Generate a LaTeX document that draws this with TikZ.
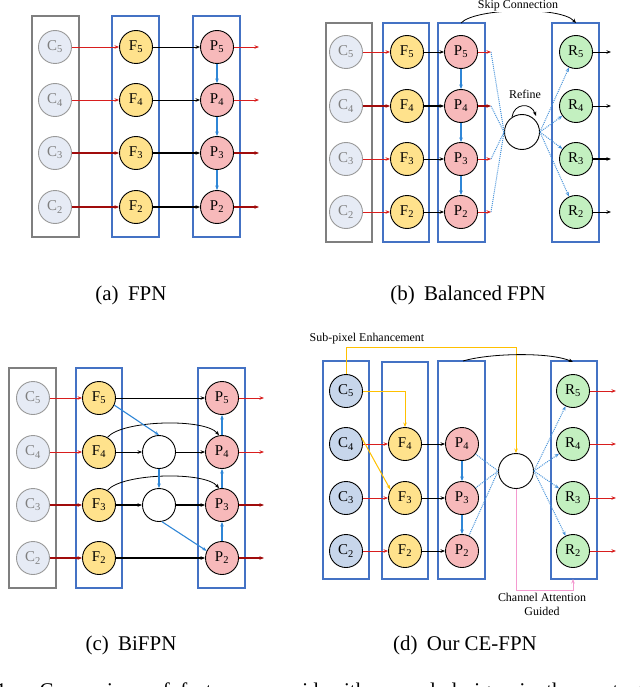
\documentclass[tikz,border=0pt]{standalone}
\usepackage{fontspec}
\setmainfont{Liberation Serif}
\usetikzlibrary{arrows.meta}
\definecolor{boxblue}{HTML}{4472C4}
\definecolor{boxgray}{HTML}{7F7F7F}
\definecolor{cfill}{HTML}{E6EBF5}
\definecolor{cdfill}{HTML}{C7D6EB}
\definecolor{ffill}{HTML}{FFE28C}
\definecolor{pfill}{HTML}{F7B9BA}
\definecolor{rfill}{HTML}{C3F0C0}
\definecolor{redA}{HTML}{D81E1E}
\definecolor{redB}{HTML}{A00C0C}
\definecolor{arrblue}{HTML}{2F86D6}
\definecolor{dotblue}{HTML}{4A94DA}
\definecolor{ylw}{HTML}{FFC000}
\definecolor{pnk}{HTML}{F49AD0}
\begin{document}
\begin{tikzpicture}[x=1bp,y=-1bp,
  arrtip/.style={-{Stealth[length=4.5bp,width=3.5bp]}},
  nd/.style={circle,minimum size=33bp,inner sep=0pt,line width=0.9bp,font=\fontsize{15}{15}\selectfont},
  cn/.style={nd,draw=boxgray!80,fill=cfill,text=boxgray},
  cdn/.style={nd,draw=black,fill=cdfill},
  fn/.style={nd,draw=black,fill=ffill},
  pn/.style={nd,draw=black,fill=pfill},
  rn/.style={nd,draw=black,fill=rfill},
  wn/.style={nd,draw=black,fill=white},
  gbox/.style={draw=boxgray,line width=1.3bp},
  bbox/.style={draw=boxblue,line width=1.1bp},
  rarr/.style={arrtip,draw=redA,line width=0.8bp},
  rarrd/.style={arrtip,draw=redB,line width=1.3bp},
  karr/.style={arrtip,draw=black,line width=0.8bp},
  karrd/.style={arrtip,draw=black,line width=1.3bp},
  barr/.style={arrtip,draw=arrblue,line width=1.1bp},
  dln/.style={draw=dotblue,densely dotted,line width=1bp},
  darr/.style={dln,arrtip},
  yarr/.style={arrtip,draw=ylw,line width=1bp},
  lbl/.style={font=\fontsize{12}{12}\selectfont,inner sep=0pt},
  captext/.style={font=\fontsize{21}{21}\selectfont,inner sep=0pt}
]
\useasboundingbox (0,0) rectangle (640,687);

% ---------------- (a) FPN ----------------
\draw[gbox] (32,16) rectangle (79,237);
\draw[bbox] (112,16) rectangle (159,237);
\draw[bbox] (193,16) rectangle (240,237);
\foreach \i/\y in {5/47,4/100,3/153,2/207}{
  \node[cn] (ac\i) at (55,\y) {C\textsubscript{\i}};
  \node[fn] (af\i) at (136,\y) {F\textsubscript{\i}};
  \node[pn] (ap\i) at (217,\y) {P\textsubscript{\i}};
  \coordinate (ao\i) at (259,\y);
}
\foreach \i in {5,4}{
  \draw[rarr] (ac\i) -- (af\i);
  \draw[karr] (af\i) -- (ap\i);
  \draw[rarr] (ap\i) -- (ao\i);
}
\foreach \i in {3,2}{
  \draw[rarrd] (ac\i) -- (af\i);
  \draw[karrd] (af\i) -- (ap\i);
  \draw[rarrd] (ap\i) -- (ao\i);
}
\draw[barr] (ap5) -- (ap4);
\draw[barr] (ap4) -- (ap3);
\draw[barr] (ap3) -- (ap2);
\node[captext] (capa) at (131,295) {(a)\hspace{0.45em}FPN};

% ---------------- (b) Balanced FPN ----------------
\draw[gbox] (326,23) rectangle (372,242);
\draw[bbox] (383,23) rectangle (429,242);
\draw[bbox] (438,23) rectangle (485,242);
\draw[bbox] (552,23) rectangle (599,242);
\node[wn,minimum size=35bp] (bref) at (522,132) {};
\foreach \i/\y in {5/52,4/106,3/159,2/212}{
  \node[cn] (bc\i) at (346,\y) {C\textsubscript{\i}};
  \node[fn] (bf\i) at (407,\y) {F\textsubscript{\i}};
  \node[pn] (bp\i) at (461,\y) {P\textsubscript{\i}};
  \node[rn] (br\i) at (576,\y) {R\textsubscript{\i}};
  \coordinate (bo\i) at (491,\y);
  \coordinate (bq\i) at (611,\y);
  \draw[dln] (bo\i) -- (bref.west);
  \draw[darr] (bref.east) -- (br\i);
}
\foreach \i in {5,3,2}{
  \draw[rarr] (bc\i) -- (bf\i);
  \draw[karr] (bf\i) -- (bp\i);
  \draw[rarr] (bp\i) -- (bo\i);
}
\draw[rarrd] (bc4) -- (bf4);
\draw[karrd] (bf4) -- (bp4);
\draw[rarrd] (bp4) -- (bo4);
\foreach \i in {5,4,2}{\draw[karr] (br\i) -- (bq\i);}
\draw[karrd] (br3) -- (bq3);
\draw[barr] (bp5) -- (bp4);
\draw[barr] (bp4) -- (bp3);
\draw[barr] (bp3) -- (bp2);
\coordinate (bsk1) at (461,23);
\coordinate (bsk2) at (576,23);
\draw[karr] (bsk1) .. controls (475,8) and (560,6) .. (bsk2);
\node[lbl,fill=white,inner sep=1bp] (bskl) at (518,6) {Skip Connection};
\node[lbl] (brefl) at (525,94) {Refine};
\coordinate (brf1) at (512,117);
\coordinate (brf2) at (536,116);
\draw[karr] (brf1) .. controls (514,103) and (531,102) .. (brf2);
\node[captext] (capb) at (468,295) {(b)\hspace{0.45em}Balanced FPN};

% ---------------- (c) BiFPN ----------------
\draw[gbox] (9,368) rectangle (56,588);
\draw[bbox] (76,368) rectangle (122,588);
\draw[bbox] (198,368) rectangle (245,588);
\foreach \i/\y in {5/398,4/452,3/505,2/558}{
  \node[cn] (cc\i) at (33,\y) {C\textsubscript{\i}};
  \node[fn] (cf\i) at (99,\y) {F\textsubscript{\i}};
  \node[pn] (cp\i) at (222,\y) {P\textsubscript{\i}};
  \coordinate (co\i) at (264,\y);
}
\node[wn] (cm4) at (159,452) {};
\node[wn] (cm3) at (159,505) {};
\foreach \i in {5,4}{
  \draw[rarr] (cc\i) -- (cf\i);
  \draw[rarr] (cp\i) -- (co\i);
}
\foreach \i in {3,2}{
  \draw[rarrd] (cc\i) -- (cf\i);
  \draw[rarrd] (cp\i) -- (co\i);
}
\draw[karr] (cf5) -- (cp5);
\draw[karr] (cf4) -- (cm4);
\draw[karr] (cm4) -- (cp4);
\draw[karrd] (cf3) -- (cm3);
\draw[karrd] (cm3) -- (cp3);
\draw[karrd] (cf2) -- (cp2);
\draw[karr] (cf4.60) .. controls (122,420) and (205,418) .. (cp4.100);
\draw[karr] (cf3.60) .. controls (122,473) and (205,471) .. (cp3.100);
\draw[barr] (cf5.-25) -- (cm4.north);
\draw[barr] (cm4) -- (cm3);
\draw[barr] (cm3.-80) -- (cp2.155);
\draw[barr] (cp2) -- (cp3);
\draw[barr] (cp3) -- (cp4);
\draw[barr] (cp4) -- (cp5);
\node[captext] (capc) at (131,645) {(c)\hspace{0.45em}BiFPN};

% ---------------- (d) CE-FPN ----------------
\draw[bbox] (323,361) rectangle (369,579);
\draw[bbox] (382,362) rectangle (428,579);
\draw[bbox] (438,361) rectangle (485,579);
\draw[bbox] (551,361) rectangle (597,579);
\node[wn,minimum size=35bp] (dm) at (516,471) {};
\foreach \i/\y in {5/391,4/444,3/498,2/551}{
  \node[cdn] (dc\i) at (346,\y) {C\textsubscript{\i}};
  \node[rn] (dr\i) at (573,\y) {R\textsubscript{\i}};
  \coordinate (do\i) at (616,\y);
  \draw[rarr] (dr\i) -- (do\i);
  \draw[darr] (dm.east) -- (dr\i);
}
\foreach \i/\y in {4/444,3/498,2/551}{
  \node[fn] (df\i) at (405,\y) {F\textsubscript{\i}};
  \node[pn] (dp\i) at (462,\y) {P\textsubscript{\i}};
  \draw[rarr] (dc\i) -- (df\i);
  \draw[karr] (df\i) -- (dp\i);
  \draw[dln] (dp\i) -- (dm.west);
}
\draw[barr] (dp4) -- (dp3);
\draw[barr] (dp3) -- (dp2);
\coordinate (dy1) at (346,347);
\coordinate (dy2) at (516,347);
\draw[yarr] (dc5.north) -- (dy1) -- (dy2) -- (dm.north);
\draw[yarr] (dc5.east) -| (df4.north);
\draw[yarr] (dc4.20) -- (df3.150);
\coordinate (dsk1) at (463,361);
\coordinate (dsk2) at (573,362);
\draw[karr] (dsk1) .. controls (490,353) and (550,352) .. (dsk2);
\coordinate (dpk1) at (516,590);
\coordinate (dpk2) at (573,590);
\coordinate (dpk3) at (573,579);
\draw[arrtip,draw=pnk,line width=1bp] (dm.south) -- (dpk1) -- (dpk2) -- (dpk3);
\node[lbl] (dsub) at (367,339) {Sub-pixel Enhancement};
\node[lbl,fill=white,inner sep=1bp] (dcha) at (542,597) {Channel Attention};
\node[lbl] (dgui) at (542,611) {Guided};
\node[captext] (capd) at (465,645) {(d)\hspace{0.45em}Our CE-FPN};

% ---------------- bottom caption (cut off as in the reference) ----------------
\node[captext,anchor=base west] (figcap) at (-4,697) {1:\hspace{1.3em}Comparison\hspace{0.5em}of\hspace{0.5em}feature\hspace{0.5em}pyramid\hspace{0.5em}with\hspace{0.5em}several\hspace{0.5em}designs\hspace{0.5em}in\hspace{0.5em}the\hspace{0.5em}context\hspace{0.5em}of};
\end{tikzpicture}
\end{document}
